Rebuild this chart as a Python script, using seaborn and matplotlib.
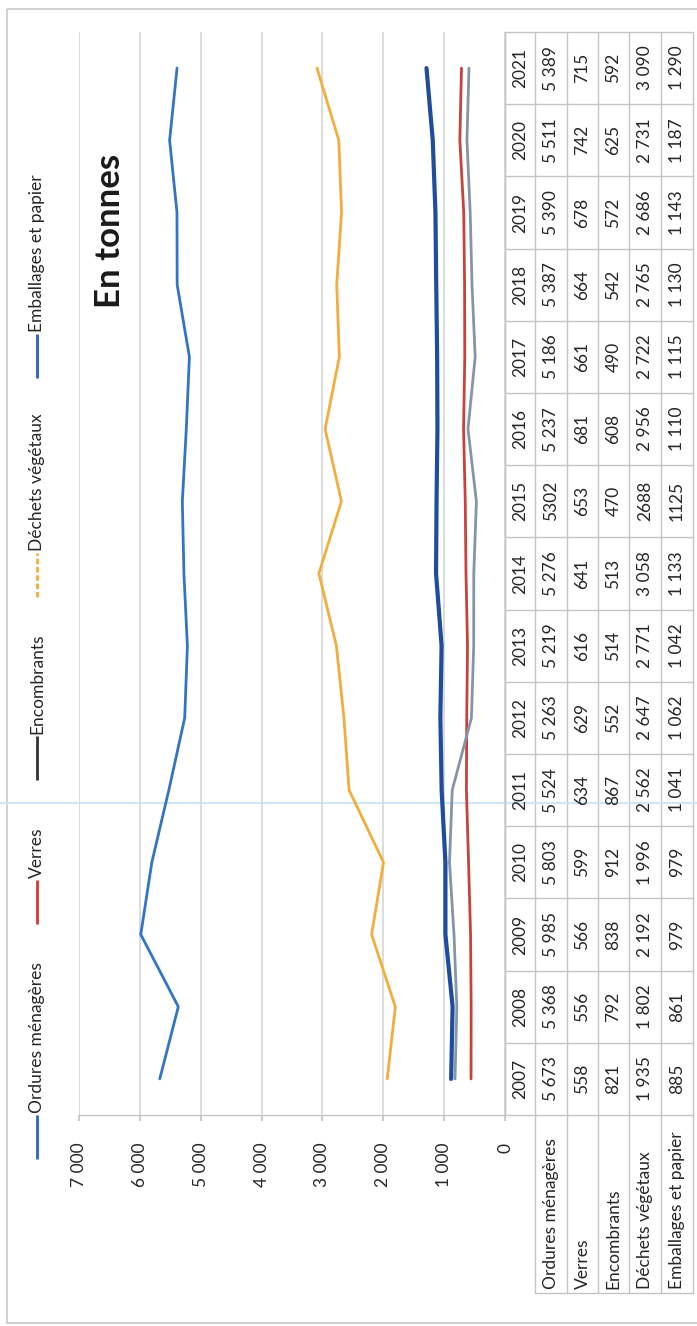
import numpy as np
import pandas as pd
import seaborn as sns
import matplotlib.pyplot as plt
from matplotlib.patches import Rectangle

# data (tonnes par an)
years = list(range(2007, 2022))
series = ['Ordures ménagères', 'Verres', 'Encombrants', 'Déchets végétaux', 'Emballages et papier']
ordures = [5673, 5368, 5985, 5803, 5524, 5263, 5219, 5276, 5302, 5237, 5186, 5387, 5390, 5511, 5389]
verres = [558, 556, 566, 599, 634, 629, 616, 641, 653, 681, 661, 664, 678, 742, 715]
encombrants = [821, 792, 838, 912, 867, 552, 514, 513, 470, 608, 490, 542, 572, 625, 592]
dechets = [1935, 1802, 2192, 1996, 2562, 2647, 2771, 3058, 2688, 2956, 2722, 2765, 2686, 2731, 3090]
emballages = [885, 861, 979, 979, 1041, 1062, 1042, 1133, 1125, 1110, 1115, 1130, 1143, 1187, 1290]
values = [ordures, verres, encombrants, dechets, emballages]
colors = ['#3374c4', '#c9413b', '#8595a8', '#f3ad3d', '#1f4c9e']
legend_colors = ['#2f62c0', '#d13a35', '#333333', '#f3ad3d', '#2a5cc0']
no_sep_years = [2015]
val_ticks = [0, 1000, 2000, 3000, 4000, 5000, 6000, 7000]

sns.set_theme(style='white')
plt.rcParams['font.family'] = ['Lato', 'DejaVu Sans']
txt_c = '#262626'
line_c = '#c4c4c4'


def fmt(v, sep=' '):
    s = f'{v:,}'
    return s.replace(',', sep)


df = pd.DataFrame({
    'annee': np.tile(years, len(series)),
    'serie': np.repeat(series, len(years)),
    'tonnes': np.concatenate(values),
})
df['pos'] = df['annee'] - years[0]

W, H = 697, 1326
fig = plt.figure(figsize=(W / 100, H / 100), dpi=100)

# pixel layout of the (rotated) chart
x_max, x_zero = 79, 505
y_top, y_bot = 32, 1115
rows_x = [505, 535, 567, 598, 629, 661, 693]
y_head = 1293

bg = fig.add_axes([0, 0, 1, 1])
bg.set_xlim(0, W)
bg.set_ylim(H, 0)
bg.axis('off')

ax = fig.add_axes([x_max / W, 1 - y_bot / H, (x_zero - x_max) / W, (y_bot - y_top) / H])
ax.set_facecolor('none')
sns.lineplot(data=df, x='tonnes', y='pos', hue='serie', hue_order=series,
             palette=dict(zip(series, colors)), orient='y', estimator=None,
             sort=True, linewidth=2, legend=False, ax=ax)
ax.lines[4].set_linewidth(3)
ax.set_xlim(7000, 0)
ax.set_ylim(-0.5, len(years) - 0.5)
ax.set_xticks(val_ticks)
ax.set_xticklabels([fmt(v) for v in val_ticks], rotation=90)
ax.set_yticks([])
ax.set_xlabel('')
ax.set_ylabel('')
ax.grid(axis='x', color='#d9d9d9', lw=1.3)
ax.set_axisbelow(True)
ax.tick_params(axis='x', bottom=True, length=4, color=line_c, pad=16,
               labelsize=12.5, labelcolor=txt_c)
for s in ['left', 'top']:
    ax.spines[s].set_visible(False)
for s in ['bottom', 'right']:
    ax.spines[s].set_color(line_c)
    ax.spines[s].set_linewidth(1)

# data table
cell_h = (y_bot - y_top) / len(years)
for k in range(len(years) + 1):
    yy = y_bot - k * cell_h
    bg.plot([rows_x[0], rows_x[-1]], [yy, yy], color=line_c, lw=1)
for xv in rows_x:
    bg.plot([xv, xv], [y_top, y_bot], color=line_c, lw=1)
for xv in rows_x[1:]:
    bg.plot([xv, xv], [y_bot, y_head], color=line_c, lw=1)
bg.plot([rows_x[1], rows_x[-1]], [y_head, y_head], color=line_c, lw=1)

for i, yr in enumerate(years):
    yc = y_bot - (i + 0.5) * cell_h
    bg.text((rows_x[0] + rows_x[1]) / 2, yc, str(yr), rotation=90, ha='center',
            va='center', fontsize=12.5, color=txt_c)
    for j, vals in enumerate(values):
        xc = (rows_x[j + 1] + rows_x[j + 2]) / 2
        sep = '' if yr in no_sep_years else ' '
        bg.text(xc, yc, fmt(vals[i], sep), rotation=90, ha='center', va='center',
                fontsize=12.5, color=txt_c)

for j, name in enumerate(series):
    xc = (rows_x[j + 1] + rows_x[j + 2]) / 2
    bg.text(xc, y_head - 4, name, rotation=90, ha='center', va='bottom',
            fontsize=12.5, color=txt_c)

# legend (rotated)
leg_top = [1115, 880, 736, 553, 334]
leg_len = 44
for name, c, yt in zip(series, legend_colors, leg_top):
    ls = (0, (2, 1)) if name == 'Déchets végétaux' else '-'
    bg.plot([37, 37], [yt + leg_len, yt], color=c, lw=2, ls=ls,
            solid_capstyle='butt')
    bg.text(37, yt - 2, name, rotation=90, ha='center', va='bottom',
            fontsize=12.5, color=txt_c)

bg.text(110, 231, 'En tonnes', rotation=90, ha='center', va='center',
        fontsize=25, fontweight='bold', color='#1a1a1a')

# frame and scan line
bg.add_patch(Rectangle((7, 9), 720, 1314, fill=False, edgecolor='#c8c8c8', lw=1.2))
bg.plot([0, W], [803, 803], color='#cfe6f3', lw=1.5)

fig.savefig('out.png', dpi=100)
